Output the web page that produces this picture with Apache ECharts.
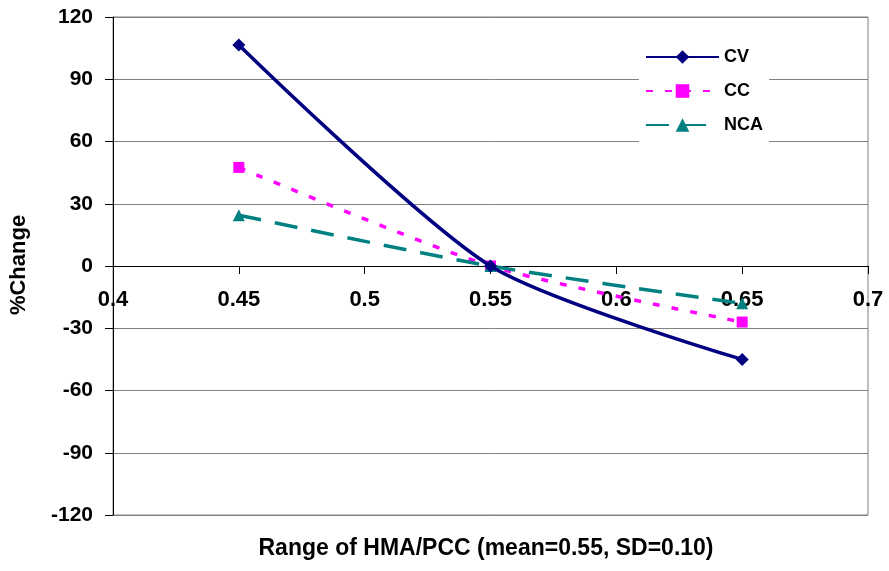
<!DOCTYPE html>
<html>
<head>
<meta charset="utf-8">
<script src="https://cdn.jsdelivr.net/npm/echarts@6/dist/echarts.min.js"></script>
<style>html,body{margin:0;padding:0;background:#fff}#c{width:889px;height:571px}</style>
</head>
<body>
<div id="c"></div>
<script>
var xValues = [0.45, 0.55, 0.65];
var cvValues = [106.5, 0, -45];
var ccValues = [47.5, 0, -27];
var ncaValues = [24.5, 0, -18];
var seriesNames = ['CV', 'CC', 'NCA'];
var xTitle = 'Range of HMA/PCC (mean=0.55, SD=0.10)';
var yTitle = '%Change';

function pairs(vals){ return xValues.map(function(x,i){ return [x, vals[i]]; }); }

var chart = echarts.init(document.getElementById('c'), null, {renderer:'canvas'});
var font = 'Liberation Sans, Arial, sans-serif';
chart.setOption({
  animation: false,
  backgroundColor: '#fff',
  grid: {left:113, right:21, top:17, bottom:56, show:true, borderColor:'#808080', borderWidth:1},
  xAxis: {
    type:'value', min:0.4, max:0.7, interval:0.05, position:'bottom', offset:-249,
    axisLine:{onZero:false, lineStyle:{color:'#000', width:1}},
    axisTick:{show:true, inside:false, length:8, lineStyle:{color:'#000'}},
    axisLabel:{margin:23, color:'#000', fontFamily:font, fontWeight:'bold', fontSize:22,
      formatter:function(v){ return String(parseFloat(v.toFixed(2))); }},
    splitLine:{show:false}
  },
  yAxis: {
    type:'value', min:-120, max:120, interval:30,
    axisLine:{show:true, lineStyle:{color:'#000', width:1}},
    axisTick:{show:true, length:8, lineStyle:{color:'#000'}},
    axisLabel:{margin:20, color:'#000', fontFamily:font, fontWeight:'bold', fontSize:21},
    splitLine:{show:true, lineStyle:{color:'#808080', width:1}}
  },
  legend: {
    orient:'vertical', left:639, top:31,
    backgroundColor:'#fff', padding:[17,6,14,6],
    itemWidth:73, itemHeight:17, itemGap:16,
    textStyle:{color:'#000', fontFamily:font, fontWeight:'bold', fontSize:18},
    data: seriesNames
  },
  graphic: [
    {type:'text', x:486, y:549, style:{text:xTitle, font:'bold 23px '+font, fill:'#000', align:'center', verticalAlign:'middle'}},
    {type:'text', x:19, y:265, rotation:Math.PI/2, style:{text:yTitle, font:'bold 22px '+font, fill:'#000', align:'center', verticalAlign:'middle'}}
  ],
  series: [
    {name:seriesNames[0], type:'line', data:pairs(cvValues), smooth:0.25,
     symbol:'diamond', symbolSize:13, color:'#000080',
     lineStyle:{color:'#000080', width:3.5}, itemStyle:{color:'#000080'}, z:3},
    {name:seriesNames[1], type:'line', data:pairs(ccValues), smooth:0.25,
     symbol:'rect', symbolSize:11, color:'#FF00FF',
     lineStyle:{color:'#FF00FF', width:3.5, type:[7,12]}, itemStyle:{color:'#FF00FF'}, z:2},
    {name:seriesNames[2], type:'line', data:pairs(ncaValues), smooth:0.25,
     symbol:'triangle', symbolSize:12, color:'#008080',
     lineStyle:{color:'#008080', width:3.5, type:[23,14]}, itemStyle:{color:'#008080'}, z:2}
  ]
});
</script>
</body>
</html>
